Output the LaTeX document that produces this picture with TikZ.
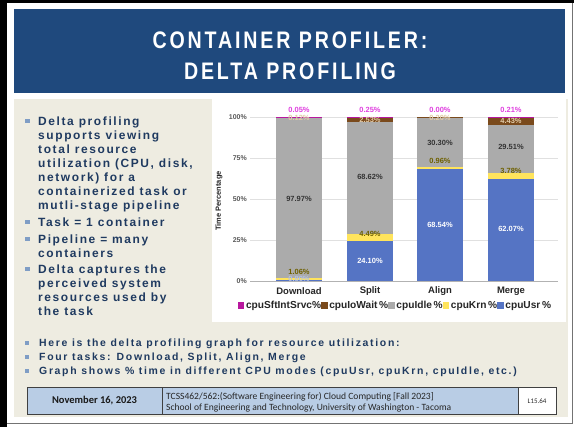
\documentclass[tikz,border=0pt]{standalone}
\usepackage{fontspec}
\setmainfont{Liberation Sans}
\newfontfamily\titlefont[FakeStretch=0.82,LetterSpace=12]{Liberation Sans}
\newfontfamily\bodyfont[LetterSpace=13.5]{Liberation Sans}
\newfontfamily\botfont[LetterSpace=16]{Liberation Sans}
\newfontfamily\footfont{Carlito}
\definecolor{titleblue}{HTML}{1F497D}
\definecolor{beige}{HTML}{EEECE1}
\definecolor{txtblue}{HTML}{1F3A60}
\definecolor{bulblue}{HTML}{7F9DC5}
\definecolor{cusr}{HTML}{5574C4}
\definecolor{ckrn}{HTML}{FFE45C}
\definecolor{cidle}{HTML}{ABABAB}
\definecolor{cio}{HTML}{7A4A1C}
\definecolor{csft}{HTML}{B8189E}
\definecolor{lblmag}{HTML}{E040E0}
\definecolor{lbltan}{HTML}{E2CBA8}
\definecolor{lblolive}{HTML}{6E6000}
\definecolor{lblidle}{HTML}{333333}
\definecolor{cellblue}{HTML}{B9CDE5}
\newcommand\seg[4]{\fill[#4] (#1,{281-1.64*(#2)}) rectangle ({#1+46},{281-1.64*(#3)});}
\tikzset{
  bodyline/.style={anchor=base west, inner sep=0pt, text=txtblue, font=\bodyfont\bfseries\fontsize{12}{14}\selectfont},
  botline/.style={anchor=base west, inner sep=0pt, text=txtblue, font=\botfont\bfseries\fontsize{10.5}{12}\selectfont},
  bul/.style={fill=bulblue, minimum size=4.5bp, inner sep=0pt},
  dlab/.style={inner sep=0pt, font=\bfseries\fontsize{7.5}{8}\selectfont},
  tick/.style={anchor=east, inner sep=0pt, text=black!65, font=\bfseries\fontsize{7}{8}\selectfont},
  cat/.style={inner sep=0pt, text=black!85, font=\bfseries\fontsize{9.5}{10}\selectfont},
  grid/.style={draw=black!12, line width=0.6bp},
  cell/.style={draw=black!75, line width=0.9bp}
}
\begin{document}
\begin{tikzpicture}[x=1bp,y=-1bp]
\useasboundingbox (0,0) rectangle (574,427);
\fill[white] (0,0) rectangle (574,427);
\fill[black] (0,0) rectangle (7,427);
\fill[black] (0,0) rectangle (574,3);
\draw[black!55, line width=1bp] (572.5,3) -- (572.5,423.5) -- (7,423.5);
% title
\fill[titleblue] (14,9) rectangle (565,93);
\node[text=white, font=\titlefont\bfseries\fontsize{24}{24}\selectfont] (t1) at (290,40) {CONTAINER PROFILER:};
\node[text=white, font=\titlefont\bfseries\fontsize{24}{24}\selectfont] (t2) at (290,71.5) {DELTA PROFILING};
% panels
\fill[beige] (14,99) rectangle (568,417);
\fill[white] (212,99) rectangle (566,322);
% left bullets
\node[bul] (b1) at (27.5,121) {};
\node[bodyline] (l1) at (38,125) {Delta profiling};
\node[bodyline] (l2) at (38,139) {supports viewing};
\node[bodyline] (l3) at (38,153) {total resource};
\node[bodyline] (l4) at (38,167) {utilization (CPU, disk,};
\node[bodyline] (l5) at (38,181) {network) for a};
\node[bodyline] (l6) at (38,195) {containerized task or};
\node[bodyline] (l7) at (38,209) {mutli-stage pipeline};
\node[bul] (b2) at (27.5,222) {};
\node[bodyline] (l8) at (38,226) {Task = 1 container};
\node[bul] (b3) at (27.5,239) {};
\node[bodyline] (l9) at (38,243) {Pipeline = many};
\node[bodyline] (l10) at (38,257) {containers};
\node[bul] (b4) at (27.5,269) {};
\node[bodyline] (l11) at (38,273) {Delta captures the};
\node[bodyline] (l12) at (38,287) {perceived system};
\node[bodyline] (l13) at (38,301) {resources used by};
\node[bodyline] (l14) at (38,315) {the task};
% chart grid
\foreach \yy/\lab in {117/100\%,158/75\%,199/50\%,240/25\%} {
  \draw[grid] (250,\yy) -- (558,\yy);
  \node[tick] at (247,\yy) {\lab};
}
\draw[draw=black!30, line width=0.8bp] (250,281) -- (558,281);
\node[tick] at (247,281) {0\%};
\node[rotate=90, inner sep=0pt, text=black!85, font=\bfseries\fontsize{7.5}{8}\selectfont] (ytitle) at (219,201) {Time Percentage};
% bars: Download
\seg{276}{0}{0.80}{cusr}
\seg{276}{0.80}{1.86}{ckrn}
\seg{276}{1.86}{99.83}{cidle}
\seg{276}{99.83}{99.95}{cio}
\fill[csft] (276,116.6) rectangle (322,117.6);
% Split
\seg{347}{0}{24.10}{cusr}
\seg{347}{24.10}{28.59}{ckrn}
\seg{347}{28.59}{97.21}{cidle}
\seg{347}{97.21}{99.74}{cio}
\fill[csft] (347,116.6) rectangle (393,117.6);
% Align
\seg{417}{0}{68.54}{cusr}
\seg{417}{68.54}{69.50}{ckrn}
\seg{417}{69.50}{99.80}{cidle}
\seg{417}{99.80}{100}{cio}
% Merge
\seg{488}{0}{62.07}{cusr}
\seg{488}{62.07}{65.85}{ckrn}
\seg{488}{65.85}{95.36}{cidle}
\seg{488}{95.36}{99.79}{cio}
\fill[csft] (488,116.6) rectangle (534,117.6);
% data labels
\node[dlab, text=lblmag] at (299,110) {0.05\%};
\node[dlab, text=lbltan] at (299,118) {0.12\%};
\node[dlab, text=lblidle] at (299,199) {97.97\%};
\node[dlab, text=lblolive] at (299,272) {1.06\%};
\node[dlab, text=cusr!45] at (299,279) {0.80\%};
\node[dlab, text=lblmag] at (370,110) {0.25\%};
\node[dlab, text=lbltan] at (370,119.5) {2.53\%};
\node[dlab, text=lblidle] at (370,177) {68.62\%};
\node[dlab, text=lblolive] at (370,234) {4.49\%};
\node[dlab, text=white] at (370,261) {24.10\%};
\node[dlab, text=lblmag] at (440,110) {0.00\%};
\node[dlab, text=lbltan] at (440,118) {0.20\%};
\node[dlab, text=lblidle] at (440,143) {30.30\%};
\node[dlab, text=lblolive] at (440,161) {0.96\%};
\node[dlab, text=white] at (440,225) {68.54\%};
\node[dlab, text=lblmag] at (511,110) {0.21\%};
\node[dlab, text=lbltan] at (511,120.5) {4.43\%};
\node[dlab, text=lblidle] at (511,147) {29.51\%};
\node[dlab, text=lblolive] at (511,171) {3.78\%};
\node[dlab, text=white] at (511,229) {62.07\%};
% categories
\node[cat] (cd) at (299,291) {Download};
\node[cat] (cs) at (370,291) {Split};
\node[cat] (ca) at (440,291) {Align};
\node[cat] (cm) at (511,291) {Merge};
% legend
\node[inner sep=0pt, text=black!85, font=\bfseries\fontsize{10.2}{11}\selectfont] (leg) at (394.5,306)
 {{\color{csft}\rule{6.5bp}{6.5bp}}\,cpuSftIntSrvc\%{\color{cio}\rule{6.5bp}{6.5bp}}\,cpuIoWait\,\%{\color{cidle}\rule{6.5bp}{6.5bp}}\,cpuIdle\,\%{\color{ckrn}\rule{6.5bp}{6.5bp}}\,cpuKrn\,\%{\color{cusr}\rule{6.5bp}{6.5bp}}\,cpuUsr\,\%};
% bottom bullets
\node[bul, minimum size=4bp] (bb1) at (27,342.5) {};
\node[botline] (m1) at (39,346.3) {Here is the delta profiling graph for resource utilization:};
\node[bul, minimum size=4bp] (bb2) at (27,356.5) {};
\node[botline] (m2) at (39,360.3) {Four tasks: Download, Split, Align, Merge};
\node[bul, minimum size=4bp] (bb3) at (27,370.5) {};
\node[botline] (m3) at (39,374.3) {Graph shows \% time in different CPU modes (cpuUsr, cpuKrn, cpuIdle, etc.)};
% footer table
\fill[cellblue] (27,387) rectangle (518,414);
\fill[white] (518,387) rectangle (556,414);
\draw[cell] (27,387) rectangle (556,414);
\draw[cell] (162,387) -- (162,414);
\draw[cell] (518,387) -- (518,414);
\node[inner sep=0pt, text=black!90, font=\footfont\bfseries\fontsize{10.5}{11}\selectfont] (date) at (94.5,401) {November 16, 2023};
\node[anchor=base west, inner sep=0pt, text=black!85, font=\footfont\fontsize{9.6}{10}\selectfont] (c1) at (166,399) {TCSS462/562:(Software Engineering for) Cloud Computing [Fall 2023]};
\node[anchor=base west, inner sep=0pt, text=black!85, font=\footfont\fontsize{9.6}{10}\selectfont] (c2) at (166,410.8) {School of Engineering and Technology, University of Washington - Tacoma};
\node[inner sep=0pt, text=black!85, font=\footfont\fontsize{7}{8}\selectfont] (pg) at (537,401) {L15.64};
\end{tikzpicture}
\end{document}
